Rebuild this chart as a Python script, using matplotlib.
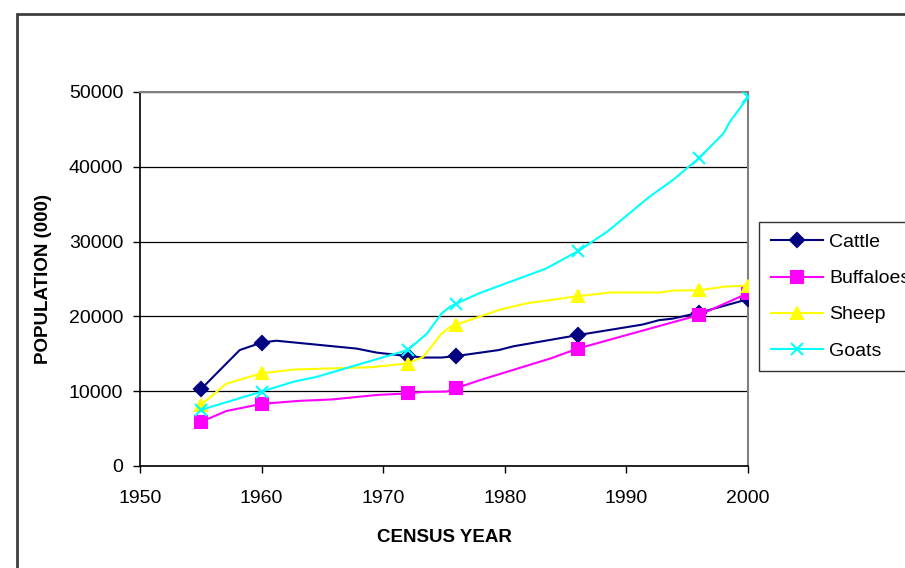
import matplotlib
matplotlib.use('Agg')
import matplotlib.pyplot as plt
from matplotlib.patches import Rectangle

plt.rcParams['font.family'] = ['Liberation Sans', 'DejaVu Sans']

census_years = [1955, 1960, 1972, 1976, 1986, 1996, 2000]

# line readings (census points plus the bends seen between them)
cattle_x = [1955, 1958.2, 1960, 1961.2, 1967.8, 1969.5, 1972, 1973.3, 1974.8, 1976,
            1979.5, 1980.7, 1986, 1991.3, 1992.7, 1993.8, 1996, 2000]
cattle_y = [10250, 15500, 16500, 16750, 15700, 15150, 14700, 14500, 14500, 14700,
            15500, 16000, 17500, 18900, 19500, 19700, 20500, 22300]

buffalo_x = [1955, 1957.1, 1960, 1963, 1965.8, 1969.5, 1972, 1973.3, 1975.2, 1976,
             1978, 1983.8, 1986, 1996, 2000]
buffalo_y = [5900, 7350, 8300, 8700, 8900, 9500, 9700, 9900, 9950, 10400,
             11500, 14400, 15700, 20200, 23100]

sheep_x = [1955, 1957.1, 1960, 1962.7, 1968.9, 1972, 1973.3, 1974.8, 1975.5, 1976,
           1979.6, 1981.8, 1986, 1988.7, 1992.8, 1993.8, 1996, 1998.2, 2000]
sheep_y = [8150, 11000, 12400, 12900, 13200, 13700, 14600, 17700, 18600, 18900,
           20900, 21750, 22700, 23200, 23200, 23450, 23500, 24000, 24100]

goats_x = [1955, 1960, 1962.7, 1964.6, 1972, 1973.6, 1974.8, 1975.5, 1976, 1977.9,
           1983.4, 1986, 1988.4, 1991.9, 1993.8, 1996, 1998, 1998.5, 2000]
goats_y = [7500, 9950, 11300, 11950, 15500, 17700, 20400, 21300, 21700, 23100,
           26400, 28700, 31300, 36000, 38200, 41200, 44500, 46000, 49300]

series = [
    ("Cattle", cattle_x, cattle_y, "#000080", "D", 7),
    ("Buffaloes", buffalo_x, buffalo_y, "#FF00FF", "s", 8),
    ("Sheep", sheep_x, sheep_y, "#FFFF00", "^", 8),
    ("Goats", goats_x, goats_y, "#00FFFF", "x", 9),
]

fig = plt.figure(figsize=(9.05, 5.68), dpi=100)
ax = fig.add_axes([140/905, 1-466/568, 608/905, 374/568])

for name, xs, ys, col, mk, ms in series:
    marks = [i for i, x in enumerate(xs) if x in census_years]
    ax.plot(xs, ys, color=col, lw=1.5, marker=mk, ms=ms, markevery=marks,
            mec=col, mfc=col, mew=1.5, label=name, zorder=3)

ax.set_xlim(1950, 2000)
ax.set_ylim(0, 50000)
ax.set_xticks(range(1950, 2001, 10))
ax.set_yticks(range(0, 50001, 10000))
ax.yaxis.grid(True, color='black', lw=0.9)
ax.set_axisbelow(True)
for s in ['top', 'right']:
    ax.spines[s].set_color('#808080')
    ax.spines[s].set_linewidth(1.5)
for s in ['left', 'bottom']:
    ax.spines[s].set_color('black')
    ax.spines[s].set_linewidth(1.2)
ax.tick_params(direction='out', length=5, width=1, labelsize=14)
ax.tick_params(axis='x', pad=12)
ax.tick_params(axis='y', pad=7)

ax.set_xlabel("CENSUS YEAR", fontsize=13.5, fontweight='bold', labelpad=16)
ax.set_ylabel("POPULATION (000)", fontsize=13.5, fontweight='bold', labelpad=12)

# legend runs past the right edge, as in the original
leg = fig.legend(loc='upper left', bbox_to_anchor=(759/905, 1-222/568),
                 frameon=True, fancybox=False, edgecolor='black', fontsize=14,
                 borderaxespad=0, handlelength=2.7, handletextpad=0.3,
                 labelspacing=0.95, borderpad=0.6)
leg.get_frame().set_linewidth(1.0)

fig.add_artist(Rectangle((17/905, -0.1), 2, 1-14/568+0.1, transform=fig.transFigure,
                         fill=False, edgecolor='#404040', lw=2))

fig.savefig('out.png', dpi=100)
